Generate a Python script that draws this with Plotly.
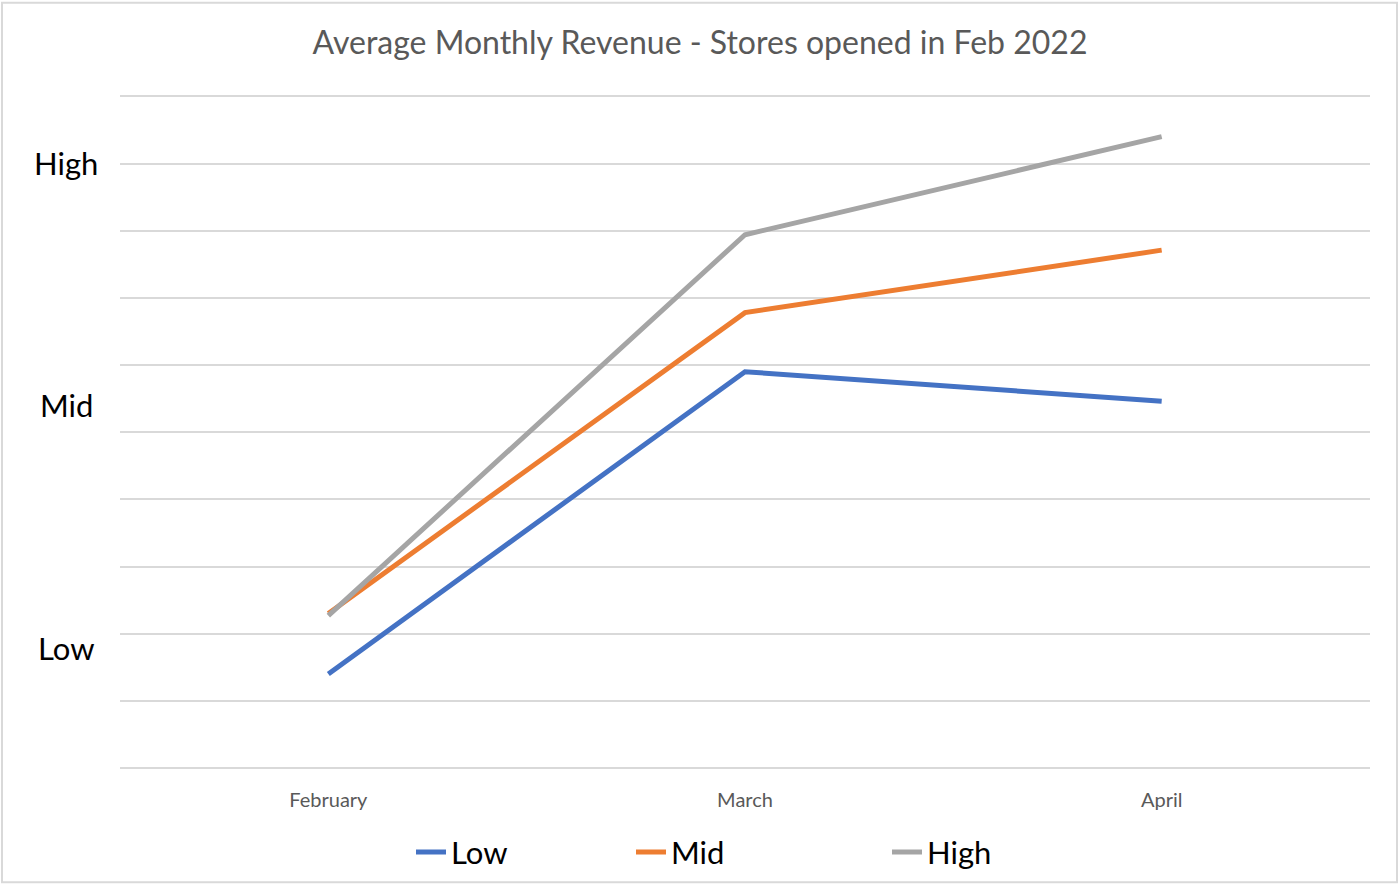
import plotly.graph_objects as go

months = ["February", "March", "April"]
low = [1.40, 5.90, 5.46]
mid = [2.30, 6.78, 7.71]
high = [2.27, 7.94, 9.40]
series_names = ["Low", "Mid", "High"]
colors = ["#4472C4", "#ED7D31", "#A5A5A5"]
y_labels = ["High", "Mid", "Low"]
y_label_pos = [9.01, 5.40, 1.78]

W, H = 1400, 891
L, R, T, B = 120, 30, 95, 118
pw, ph = W - L - R, H - T - B

def px_x(p):
    return (p - L) / pw

def px_y(p):
    return (H - B - p) / ph

fig = go.Figure()
legend_ids = ["legend", "legend2", "legend3"]
legend_x = [411, 631, 887]
for name, vals, c, lg in zip(series_names, [low, mid, high], colors, legend_ids):
    fig.add_trace(go.Scatter(x=months, y=vals, name=name, mode="lines",
                             line=dict(color=c, width=5), legend=lg))

legend_common = dict(orientation="h", yanchor="middle", xanchor="left",
                     font=dict(family="Lato", size=31, color="#000000"),
                     bgcolor="rgba(0,0,0,0)", itemwidth=30)
layout_legends = {}
for lg, xp in zip(legend_ids, legend_x):
    layout_legends[lg] = dict(legend_common, x=px_x(xp), y=px_y(858))

fig.update_layout(
    width=W, height=H,
    margin=dict(l=L, r=R, t=T, b=B),
    paper_bgcolor="white", plot_bgcolor="white",
    title=dict(text="Average Monthly Revenue - Stores opened in Feb 2022",
               x=0.5, xanchor="center", y=1 - 43 / H, yanchor="middle",
               font=dict(family="Lato", size=32, color="#595959")),
    xaxis=dict(type="category", range=[-0.5, 2.5], showgrid=False,
               ticks="outside", ticklen=14, tickcolor="rgba(0,0,0,0)",
               tickfont=dict(family="Lato", size=20, color="#595959"),
               showline=False, zeroline=False),
    yaxis=dict(range=[0, 10.02], dtick=1, tick0=0, showgrid=True,
               gridcolor="#D9D9D9", gridwidth=1.5, showticklabels=False,
               zeroline=True, zerolinecolor="#D9D9D9", zerolinewidth=1.5),
    showlegend=True,
    **layout_legends,
)

for txt, yv in zip(y_labels, y_label_pos):
    fig.add_annotation(text=txt, xref="paper", yref="y", x=px_x(66), y=yv,
                       xanchor="center", yanchor="middle", showarrow=False,
                       font=dict(family="Lato", size=31, color="#000000"))

fig.add_shape(type="rect", xref="paper", yref="paper",
              x0=px_x(2), x1=px_x(1397), y0=px_y(888), y1=px_y(2),
              line=dict(color="#D9D9D9", width=2), fillcolor="rgba(0,0,0,0)",
              layer="below")

fig.write_html("out.html", config={"displayModeBar": False},
               post_script="document.body.style.margin='0';document.body.style.overflow='hidden';")
